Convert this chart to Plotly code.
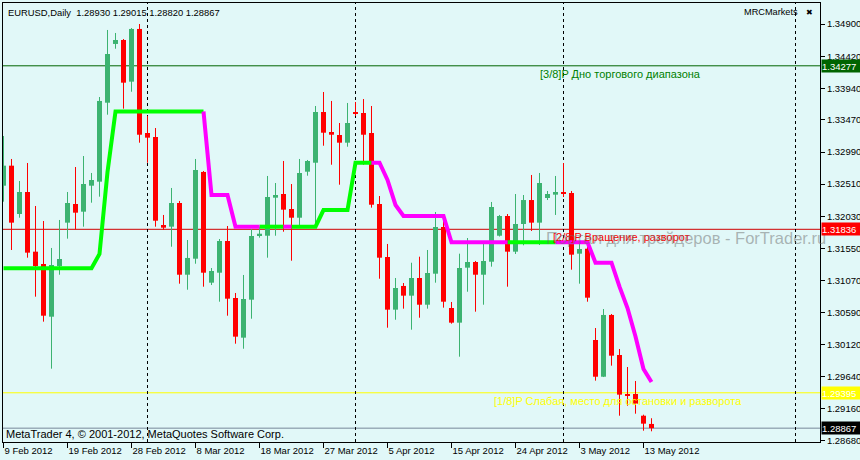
import plotly.graph_objects as go

# ---------------- data ----------------
open_ = [1.32487, 1.32786, 1.32064, 1.32393, 1.31502, 1.31318, 1.30531, 1.31288, 1.31935, 1.32214,
         1.32099, 1.32487, 1.32547, 1.33726, 1.34603, 1.34662, 1.34040, 1.34827, 1.33274, 1.33214,
         1.31900, 1.31875, 1.32229, 1.31158, 1.31397, 1.32692, 1.31039, 1.31188, 1.31661, 1.30810,
         1.30218, 1.30785, 1.31745, 1.31740, 1.32308, 1.32363, 1.32139, 1.32009, 1.32696, 1.32830,
         1.33587, 1.33289, 1.33244, 1.33129, 1.33587, 1.33572, 1.33274, 1.32214, 1.31422, 1.30636,
         1.30990, 1.30845, 1.31109, 1.30710, 1.31173, 1.31870, 1.30661, 1.30442, 1.31263, 1.31348,
         1.31158, 1.31352, 1.31740, 1.32035, 1.31502, 1.31915, 1.32273, 1.31935, 1.32303, 1.32353,
         1.32378, 1.32378, 1.31472, 1.31546, 1.30183, 1.29635, 1.30557, 1.29959, 1.29377, 1.29377,
         1.29053, 1.28930]
high = [1.33229, 1.32886, 1.32557, 1.32826, 1.32184, 1.31960, 1.31557, 1.31975, 1.32393, 1.32766,
        1.32930, 1.32677, 1.33811, 1.34812, 1.34767, 1.34677, 1.34841, 1.34901, 1.33528, 1.33348,
        1.32050, 1.32453, 1.32259, 1.31676, 1.32886, 1.32706, 1.31258, 1.31691, 1.31885, 1.30885,
        1.31154, 1.31840, 1.31875, 1.32632, 1.32527, 1.32856, 1.32512, 1.32886, 1.32871, 1.33677,
        1.33886, 1.33752, 1.33423, 1.33722, 1.33737, 1.33781, 1.33677, 1.32333, 1.31617, 1.31109,
        1.31034, 1.31337, 1.31427, 1.31527, 1.32094, 1.32009, 1.30751, 1.31472, 1.31706, 1.31363,
        1.31651, 1.32244, 1.32050, 1.32064, 1.32363, 1.32348, 1.32647, 1.32677, 1.32408, 1.32632,
        1.32826, 1.32408, 1.31651, 1.31606, 1.30362, 1.30646, 1.30571, 1.30049, 1.29780, 1.29571,
        1.29068, 1.29015]
low = [1.32248, 1.31527, 1.32009, 1.31412, 1.30830, 1.30457, 1.29755, 1.31158, 1.31696, 1.31836,
       1.31875, 1.32233, 1.32323, 1.33547, 1.34532, 1.33637, 1.33890, 1.33129, 1.32830, 1.31875,
       1.31826, 1.31576, 1.31024, 1.30934, 1.31322, 1.30979, 1.31004, 1.30755, 1.30546, 1.30128,
       1.30053, 1.30501, 1.31711, 1.31412, 1.31740, 1.31800, 1.31367, 1.31875, 1.32636, 1.31915,
       1.33084, 1.32800, 1.32502, 1.33069, 1.33528, 1.32800, 1.32159, 1.31098, 1.30367, 1.30486,
       1.30651, 1.30337, 1.30516, 1.30651, 1.31039, 1.30666, 1.30427, 1.29934, 1.30904, 1.30606,
       1.30710, 1.31278, 1.31728, 1.30979, 1.31467, 1.31597, 1.31811, 1.31602, 1.32273, 1.32050,
       1.32318, 1.31233, 1.31024, 1.30755, 1.29576, 1.29630, 1.29800, 1.29053, 1.29202, 1.29083,
       1.28829, 1.28820]
close = [1.32786, 1.31935, 1.32393, 1.31487, 1.31288, 1.30546, 1.31303, 1.31393, 1.32229, 1.32084,
         1.32512, 1.32572, 1.33752, 1.34453, 1.34662, 1.34025, 1.34827, 1.33248, 1.33204, 1.31964,
         1.31860, 1.32229, 1.31158, 1.31408, 1.32721, 1.31188, 1.31213, 1.31661, 1.30800, 1.30233,
         1.30795, 1.31736, 1.31770, 1.32318, 1.32348, 1.32129, 1.32009, 1.32677, 1.32856, 1.33587,
         1.33278, 1.33248, 1.33129, 1.33423, 1.33562, 1.33248, 1.32203, 1.31412, 1.30636, 1.30960,
         1.30845, 1.31109, 1.30710, 1.31184, 1.31870, 1.30755, 1.30442, 1.31258, 1.31348, 1.31158,
         1.31363, 1.32169, 1.32035, 1.31502, 1.31915, 1.32273, 1.31935, 1.32527, 1.32363, 1.32393,
         1.32363, 1.31457, 1.31542, 1.30815, 1.29635, 1.30557, 1.29949, 1.29367, 1.29352, 1.29232,
         1.28934, 1.28867]

# MRC middle line (one value per bar) and its colour per segment (g = up, m = down)
mrc_mid = [1.31254, 1.31254, 1.31254, 1.31254, 1.31254, 1.31254, 1.31254, 1.31254, 1.31254, 1.31254,
           1.31254, 1.31254, 1.31467, 1.32692, 1.33595, 1.33595, 1.33595, 1.33595, 1.33595, 1.33595,
           1.33595, 1.33595, 1.33595, 1.33595, 1.33595, 1.33595, 1.32348, 1.32348, 1.32348, 1.31875,
           1.31875, 1.31875, 1.31875, 1.31875, 1.31875, 1.31875, 1.31875, 1.31875, 1.31875, 1.31875,
           1.32124, 1.32124, 1.32124, 1.32124, 1.32830, 1.32830, 1.32830, 1.32830, 1.32572, 1.32199,
           1.32035, 1.32035, 1.32035, 1.32035, 1.32035, 1.32035, 1.31642, 1.31642, 1.31642, 1.31642,
           1.31642, 1.31642, 1.31642, 1.31642, 1.31642, 1.31642, 1.31642, 1.31642, 1.31642, 1.31642,
           1.31642, 1.31642, 1.31642, 1.31642, 1.31337, 1.31337, 1.31337, 1.30979, 1.30661, 1.30236,
           1.29750, 1.29556]
mrc_trend = ("ggggggggggggggggggggggggg" "mmmmmmm" "ggg" "m" "gggggggggg"
             "mmmmmmmmmmmmmmmmm" "gggggg" "mmmmmmmmmmmm")

tick_bars = [0, 8, 16, 24, 32, 40, 48, 56, 64, 72, 80]
tick_labels = ["9 Feb 2012", "19 Feb 2012", "28 Feb 2012", "8 Mar 2012", "18 Mar 2012",
               "27 Mar 2012", "5 Apr 2012", "15 Apr 2012", "24 Apr 2012", "3 May 2012", "13 May 2012"]
price_ticks = [1.34900, 1.34420, 1.33940, 1.33470, 1.32990, 1.32510, 1.32030, 1.31550,
               1.31070, 1.30590, 1.30120, 1.29640, 1.29160, 1.28680]
month_sep_bars = [18, 44, 70, 99]

level_prices = [1.34277, 1.31836, 1.29395]
level_texts = ["[3/8]P Дно торгового диапазона", "[2/8]P Вращение, разворот",
               "[1/8]P Слабая, место для остановки и разворота"]
level_text_bars = [66.8, 68.4, 61.1]
last_price = 1.28867

# ---------------- styles ----------------
BG = "#E1F8F8"
UP = "#3CB371"
DN = "#FF0000"
level_colors = ["#006400", "#D00000", "#FFFF00"]
level_text_colors = ["#008000", "#FF0000", "#FFFF00"]
level_box_colors = ["#006400", "#FF0000", "#FFFF00"]
FONT = "Liberation Sans, Arial, sans-serif"

n = len(close)
bars = list(range(n))
fig = go.Figure()

# wicks
for col, is_up in ((UP, True), (DN, False)):
    xs, ys = [], []
    for i in bars:
        if (close[i] >= open_[i]) == is_up:
            xs += [i, i, None]
            ys += [low[i], high[i], None]
    fig.add_trace(go.Scatter(x=xs, y=ys, mode="lines", line=dict(color=col, width=1),
                             hoverinfo="skip", showlegend=False))

# bodies
for col, is_up in ((UP, True), (DN, False)):
    xs, hs, bs = [], [], []
    for i in bars:
        if (close[i] >= open_[i]) == is_up:
            xs.append(i)
            hs.append(max(abs(close[i] - open_[i]), 0.00012))
            bs.append(min(open_[i], close[i]))
    fig.add_trace(go.Bar(x=xs, y=hs, base=bs, width=0.625, marker=dict(color=col, line=dict(width=0)),
                         showlegend=False, hoverinfo="skip"))

# MRC line, split into coloured runs
runs = []
start = 0
for s in range(1, len(mrc_trend) + 1):
    if s == len(mrc_trend) or mrc_trend[s] != mrc_trend[start]:
        runs.append((start, s, mrc_trend[start]))
        start = s
for key, col in (("g", "#00FF00"), ("m", "#FF00FF")):
    xs, ys = [], []
    for a, b, k in runs:
        if k == key:
            xs += list(range(a, b + 1)) + [None]
            ys += [mrc_mid[j] for j in range(a, b + 1)] + [None]
    fig.add_trace(go.Scatter(x=xs, y=ys, mode="lines", line=dict(color=col, width=4),
                             hoverinfo="skip", showlegend=False))

shapes = []
for p, c in zip(level_prices, level_colors):
    shapes.append(dict(type="line", xref="paper", x0=0, x1=1, yref="y", y0=p, y1=p,
                       line=dict(color=c, width=1), layer="below"))
shapes.append(dict(type="line", xref="paper", x0=0, x1=1, yref="y", y0=last_price, y1=last_price,
                   line=dict(color="#778899", width=1), layer="below"))
for b in month_sep_bars:
    shapes.append(dict(type="line", xref="x", x0=b, x1=b, yref="paper", y0=0, y1=1,
                       line=dict(color="black", width=1, dash="3px,3px"), layer="below"))

ann = []
header = "EURUSD,Daily\u00a0\u00a0{:.5f} {:.5f} {:.5f} {:.5f}".format(open_[-1], high[-1], low[-1], close[-1])
ann.append(dict(text=header, xref="paper", yref="paper", x=0, y=1, xanchor="left", yanchor="top",
                xshift=3, yshift=-2, showarrow=False, font=dict(family=FONT, size=9.4, color="black")))
ann.append(dict(text="MRCMarkets", xref="paper", yref="paper", x=1, y=1, xanchor="right", yanchor="top",
                xshift=-20, yshift=-2, showarrow=False, font=dict(family=FONT, size=9.2, color="black")))
ann.append(dict(text="✖", xref="paper", yref="paper", x=1, y=1, xanchor="right", yanchor="top",
                xshift=-5, yshift=-3, showarrow=False, font=dict(family="DejaVu Sans", size=8, color="black")))
ann.append(dict(text="MetaTrader 4, © 2001-2012, MetaQuotes Software Corp.", xref="paper", yref="paper",
                x=0, y=0, xanchor="left", yanchor="bottom", xshift=1, yshift=0, showarrow=False,
                font=dict(family=FONT, size=11, color="black")))
for t, p, c, xb in zip(level_texts, level_prices, level_text_colors, level_text_bars):
    ann.append(dict(text=t, xref="x", yref="y", x=xb, y=p, xanchor="left", yanchor="top", showarrow=False,
                    font=dict(family=FONT, size=11, color=c)))
ann.append(dict(text="Портал для трейдеров - ForTrader.ru", xref="x", yref="y", x=67.6, y=1.31700,
                xanchor="left", yanchor="middle", showarrow=False,
                font=dict(family=FONT, size=16.5, color="rgba(110,110,110,0.5)")))
for p, c in zip(level_prices + [last_price], level_box_colors + ["#000000"]):
    ann.append(dict(text="{:.5f}".format(p), xref="paper", yref="y", x=1, y=p, xanchor="left",
                    yanchor="middle", xshift=1, showarrow=False, bgcolor=c, borderpad=0, width=38,
                    height=12, align="left", font=dict(family=FONT, size=9.5, color="white")))

fig.update_layout(
    width=860, height=460,
    margin=dict(l=3, r=40, t=3, b=18, autoexpand=False),
    paper_bgcolor=BG, plot_bgcolor=BG,
    barmode="overlay", showlegend=False,
    shapes=shapes, annotations=ann,
    font=dict(family=FONT, size=9.5, color="black"),
)
fig.update_xaxes(range=[-0.0625, 102.0625], tickvals=tick_bars, ticktext=tick_labels, automargin=False,
                 ticks="outside", ticklen=5, tickcolor="black", ticklabelposition="outside right",
                 showgrid=False, zeroline=False, showline=True, mirror=True, linecolor="black",
                 linewidth=1, tickfont=dict(family=FONT, size=9.5, color="black"))
fig.update_yaxes(range=[1.286603, 1.352146], side="right", tickvals=price_ticks, automargin=False,
                 ticktext=["{:.5f}".format(v) for v in price_ticks],
                 ticks="outside", ticklen=4, tickcolor="black", showgrid=False, zeroline=False,
                 showline=True, mirror=True, linecolor="black", linewidth=1,
                 tickfont=dict(family=FONT, size=9.5, color="black"))

fig.write_html("out.html", config={"displayModeBar": False},
               post_script="document.body.style.margin='0';document.body.style.background='" + BG + "';")
